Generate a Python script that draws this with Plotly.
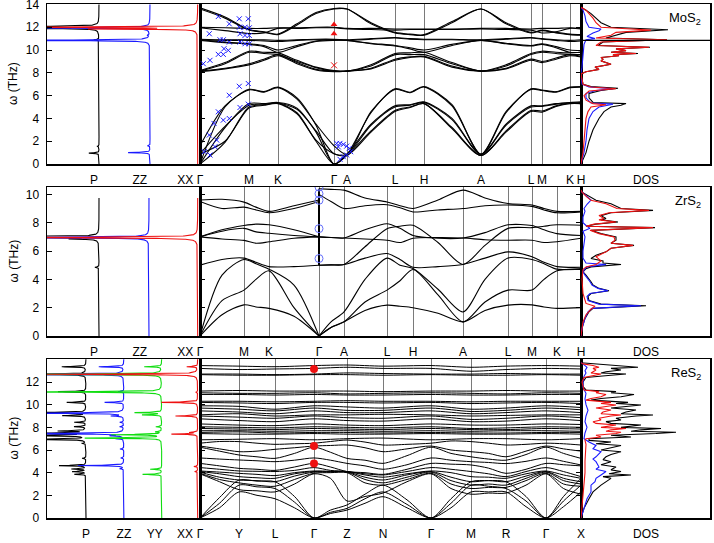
import numpy as np
import plotly.graph_objects as go

FONT = "Liberation Sans, Arial, Helvetica, sans-serif"

# ======================= DATA =======================
# ---------- MoS2 ----------
mos2_kx = [0, 25, 49, 64, 78, 97, 116, 134, 147, 171, 195, 210, 224, 252, 281, 306, 331, 342, 356, 370, 381]
mos2_hs_x = [0, 49, 78, 134, 147, 195, 224, 281, 331, 342, 370, 381]
mos2_hs_labels = ['Γ', 'M', 'K', 'Γ', 'A', 'L', 'H', 'A', 'L', 'M', 'K', 'H']
mos2_bands = [
    [0, 5.0, 6.55, 6.35, 6.75, 5.8, 3.4, 0, 0.85, 4.5, 6.6, 6.3, 6.8, 5.2, 0.85, 4.5, 6.6, 6.5, 6.35, 6.75, 6.8],
    [1.6, 5.1, 6.5, 6.3, 6.7, 5.7, 3.5, 1.6, 0.85, 4.6, 6.55, 6.25, 6.75, 5.1, 0.85, 4.6, 6.55, 6.45, 6.3, 6.7, 6.75],
    [0, 3.2, 5.3, 5.3, 5.4, 4.9, 2.8, 0, 0.85, 3.5, 5.1, 5.2, 5.45, 4.0, 0.85, 3.5, 5.1, 5.1, 5.3, 5.4, 5.45],
    [0.9, 3.3, 5.15, 5.25, 5.35, 4.8, 2.9, 0.9, 0.85, 3.4, 5.0, 5.15, 5.4, 3.9, 0.85, 3.4, 5.0, 5.05, 5.25, 5.35, 5.4],
    [0, 1.9, 5.0, 5.2, 5.35, 4.5, 2.0, 0, 0.75, 2.9, 4.7, 5.0, 5.3, 3.2, 0.75, 2.9, 4.7, 4.65, 5.1, 5.35, 5.3],
    [0.9, 2.0, 4.9, 5.15, 5.3, 4.4, 2.1, 0.9, 0.75, 2.8, 4.6, 4.95, 5.3, 3.1, 0.75, 2.8, 4.6, 4.55, 5.05, 5.3, 5.3],
    [13.7, 12.9, 11.8, 11.6, 11.4, 12.3, 13.3, 13.65, 13.6, 12.4, 11.55, 11.4, 11.35, 12.5, 13.6, 12.4, 11.55, 11.75, 11.55, 11.4, 11.35],
    [13.6, 12.8, 11.75, 11.55, 11.35, 12.2, 13.2, 13.6, 13.6, 12.3, 11.5, 11.35, 11.3, 12.4, 13.6, 12.3, 11.5, 11.7, 11.5, 11.35, 11.3],
    [12.0, 11.95, 11.9, 11.9, 11.95, 11.95, 12.0, 12.0, 11.9, 11.9, 11.85, 11.85, 11.85, 11.85, 11.9, 11.9, 11.85, 11.9, 11.9, 11.95, 11.9],
    [11.95, 11.7, 11.45, 11.5, 11.9, 11.9, 11.95, 11.95, 11.85, 11.8, 11.75, 11.8, 11.8, 11.8, 11.85, 11.8, 11.75, 11.5, 11.6, 11.9, 11.85],
    [10.95, 10.9, 10.9, 10.9, 10.85, 10.9, 10.95, 10.95, 10.9, 11.0, 11.1, 11.0, 10.95, 10.95, 10.9, 11.0, 11.1, 11.0, 10.9, 10.85, 10.9],
    [10.9, 10.85, 10.85, 10.8, 10.75, 10.85, 10.9, 10.9, 10.85, 10.95, 11.05, 10.95, 10.9, 10.9, 10.85, 10.95, 11.05, 10.95, 10.85, 10.75, 10.8],
    [10.9, 10.7, 10.55, 10.4, 10.0, 10.4, 10.8, 10.9, 10.85, 10.6, 10.4, 10.2, 10.0, 10.5, 10.85, 10.6, 10.4, 10.55, 10.3, 10.0, 9.95],
    [10.85, 10.65, 10.5, 10.3, 9.8, 10.3, 10.75, 10.85, 10.85, 10.55, 10.35, 10.1, 9.8, 10.4, 10.85, 10.55, 10.35, 10.5, 10.2, 9.8, 9.8],
    [8.2, 8.9, 9.9, 9.8, 9.75, 9.1, 8.5, 8.2, 8.15, 8.7, 9.7, 9.75, 9.8, 8.9, 8.15, 8.7, 9.7, 9.9, 9.8, 9.75, 9.8],
    [8.15, 8.8, 9.8, 9.7, 9.6, 9.0, 8.45, 8.15, 8.15, 8.6, 9.6, 9.6, 9.6, 8.8, 8.15, 8.6, 9.6, 9.8, 9.7, 9.6, 9.6],
    [8.15, 8.4, 8.8, 9.2, 9.6, 8.9, 8.3, 8.15, 8.15, 8.4, 9.2, 9.4, 9.45, 8.6, 8.15, 8.4, 9.2, 9.0, 9.3, 9.6, 9.45],
    [8.1, 8.35, 8.7, 9.1, 9.5, 8.8, 8.25, 8.1, 8.15, 8.35, 9.1, 9.35, 9.4, 8.5, 8.15, 8.35, 9.1, 8.9, 9.2, 9.5, 9.4],
]
mos2_exp_k = [3.3, 10, 9.3, 18.3, 39.3, 48.3, 29.3, 39.3, 45, 49.3, 40, 45, 49.3, 20, 23.3, 29.3, 40, 45, 49.3,
              24, 28.3, 18.3, 23.3, 39.3, 48.3, 29.3, 18.3, 14, 9.3, 4.3, 40, 48.3, 29.3, 23.3, 16.7, 15, 10,
              136.7, 140, 143.3, 146.7, 149.3, 150.7, 146.7, 143.3, 140, 138.3]
mos2_exp_f = [8.8, 9.1, 11.43, 12.94, 12.74, 12.74, 12.3, 12.0, 12.0, 11.95, 11.43, 11.28, 11.28, 10.9, 10.9, 10.7, 10.7, 10.55, 10.55,
              10.12, 9.97, 9.62, 9.62, 6.82, 7.06, 6.03, 4.58, 3.56, 2.54, 1.08, 4.96, 5.25, 3.99, 3.85, 2.1, 1.52, 0.79,
              1.81, 1.81, 1.72, 1.57, 1.37, 1.08, 0.79, 0.64, 0.41, 1.5]
mos2_raman_k = [134, 134]
mos2_raman_f = [12.24, 11.43]
mos2_ir_k = [134]
mos2_ir_f = [8.66]

# left panel (P, ZZ, XX) spike positions (THz) and heights
mos2_left_offsets = [1.02, 2.02, 2.955]
mos2_left_top = 14.0
mos2_left_peaks = [
    [(12.05, 2.5), (11.9, 1.5), (10.9, 0.1), (1.55, 0.04), (0.95, 0.2)],
    [(11.95, 3.0), (11.3, 0.04), (10.85, 3.0), (1.6, 0.05), (1.0, 0.43)],
    [(12.0, 4.0), (11.85, 2.0)],
]
mos2_left_ticks = [0.92, 1.82, 2.71]
mos2_left_labels = ['P', 'ZZ', 'XX']

# DOS (frequency, value)
mos2_dos_total = [(0, 0), (1, 0.05), (2, 0.08), (3, 0.12), (4, 0.18), (4.6, 0.23), (5.0, 0.3), (5.15, 0.4), (5.3, 0.45), (5.4, 0.12),
                  (5.8, 0.08), (6.2, 0.08), (6.45, 0.2), (6.65, 0.37), (6.8, 0.1), (7.0, 0.02), (7.9, 0.0), (8.1, 0.05), (8.3, 0.18),
                  (8.5, 0.14), (8.75, 0.3), (8.9, 0.25), (9.05, 0.2), (9.2, 0.22), (9.35, 0.2), (9.5, 0.38), (9.6, 0.32), (9.7, 0.57),
                  (9.8, 0.3), (9.95, 0.45), (10.1, 0.35), (10.25, 0.69), (10.4, 0.17), (10.7, 0.22), (10.9, 0.86), (11.05, 0.25),
                  (11.3, 0.36), (11.55, 0.45), (11.78, 0.87), (11.9, 0.6), (12.0, 0.3), (12.4, 0.2), (12.8, 0.15), (13.2, 0.1),
                  (13.5, 0.05), (13.75, 0)]
mos2_dos_red = [(0, 0), (1, 0.02), (2, 0.03), (3, 0.04), (4, 0.05), (4.6, 0.07), (5.0, 0.1), (5.2, 0.25), (5.3, 0.12), (5.6, 0.05),
                (6.0, 0.03), (6.4, 0.08), (6.6, 0.35), (6.75, 0.1), (7.0, 0.02), (7.9, 0.0), (8.1, 0.05), (8.3, 0.18), (8.5, 0.14),
                (8.75, 0.3), (8.9, 0.25), (9.05, 0.2), (9.2, 0.22), (9.35, 0.2), (9.5, 0.38), (9.6, 0.32), (9.7, 0.55), (9.8, 0.3),
                (9.95, 0.45), (10.1, 0.35), (10.25, 0.68), (10.4, 0.15), (10.7, 0.2), (10.9, 0.86), (11.05, 0.15), (11.3, 0.3),
                (11.55, 0.35), (11.75, 0.7), (11.85, 0.5), (12.0, 0.2), (12.4, 0.15), (12.8, 0.12), (13.2, 0.08), (13.5, 0.05),
                (13.75, 0.0)]
mos2_dos_blue = [(0, 0), (1, 0.03), (2, 0.05), (3, 0.06), (4, 0.08), (4.6, 0.12), (5.0, 0.18), (5.15, 0.25), (5.25, 0.32), (5.35, 0.1),
                 (5.8, 0.05), (6.2, 0.05), (6.45, 0.15), (6.6, 0.32), (6.75, 0.08), (7.0, 0.01), (8.0, 0.0), (8.5, 0.01), (9.5, 0.02),
                 (10.5, 0.03), (10.9, 0.05), (11.0, 0.14), (11.2, 0.06), (11.5, 0.12), (11.7, 0.18), (11.85, 0.2), (12.0, 0.08),
                 (12.5, 0.05), (13.0, 0.04), (13.5, 0.02), (13.75, 0)]
mos2_dos_line_freq = 10.85

# ---------- ZrS2 ----------
zrs2_hs_x = [0, 44, 69, 119, 144, 187, 213, 263, 308, 332, 357, 381]
zrs2_hs_labels = ['Γ', 'M', 'K', 'Γ', 'A', 'L', 'H', 'A', 'L', 'M', 'K', 'H']
zrs2_kx1 = [0, 22, 44, 56, 69, 94, 119]
zrs2_kx2 = [119, 131, 144, 165, 187, 200, 213, 238, 263, 285, 308, 332, 344, 357, 381]
zrs2_bands1 = [
    [9.6, 9.65, 9.45, 9.1, 8.8, 9.2, 9.6],
    [9.5, 9.0, 9.1, 8.9, 8.7, 9.0, 9.5],
    [7.0, 7.5, 7.8, 7.9, 7.85, 7.5, 7.0],
    [7.0, 7.4, 7.6, 7.35, 7.25, 7.1, 7.0],
    [7.0, 6.85, 6.75, 6.55, 6.65, 6.9, 7.0],
    [5.0, 5.4, 5.5, 5.2, 4.9, 4.9, 5.0],
    [0, 4.3, 5.4, 5.1, 4.72, 3.6, 0],
    [0, 2.5, 3.24, 4.0, 4.6, 2.0, 0],
    [0, 1.5, 2.2, 2.05, 1.95, 1.4, 0],
]
zrs2_bands2 = [
    [10.4, 10.35, 10.3, 9.75, 9.46, 9.2, 9.0, 9.6, 10.3, 9.75, 9.35, 9.25, 9.0, 8.8, 8.8],
    [10.0, 9.5, 9.0, 9.2, 9.27, 9.05, 8.76, 8.9, 9.0, 9.2, 9.25, 9.15, 8.9, 8.7, 8.76],
    [7.0, 6.95, 6.92, 7.5, 7.93, 7.6, 7.1, 6.9, 6.92, 7.3, 7.85, 7.8, 7.5, 7.23, 7.1],
    [5.0, 5.02, 5.05, 6.3, 7.58, 7.75, 7.82, 6.6, 5.05, 6.4, 7.6, 7.65, 7.75, 7.85, 7.82],
    [7.0, 6.95, 6.92, 6.85, 6.76, 6.6, 6.9, 6.95, 6.92, 6.8, 6.76, 6.76, 6.6, 6.65, 6.9],
    [5.0, 5.02, 5.05, 5.5, 5.82, 5.4, 4.85, 4.9, 5.05, 5.5, 5.94, 5.6, 5.2, 4.9, 4.85],
    [0, 1.0, 1.7, 4.0, 5.5, 5.0, 4.77, 3.3, 1.7, 4.0, 5.5, 5.4, 5.1, 4.72, 4.77],
    [0, 0.6, 1.0, 2.4, 3.24, 3.9, 4.7, 2.9, 1.0, 2.4, 3.24, 3.24, 4.0, 4.6, 4.7],
    [0, 0.6, 1.0, 1.8, 2.18, 2.1, 2.0, 1.6, 1.0, 1.8, 2.18, 2.2, 2.05, 1.95, 2.0],
]
zrs2_exp_k = [119, 119, 119, 119, 119]
zrs2_exp_f = [10.52, 10.05, 9.58, 7.58, 5.47]

zrs2_left_offsets = [1.02, 2.0, 2.955]
zrs2_left_top = 9.75
zrs2_left_peaks = [
    [(7.0, 2.5), (6.85, 0.5), (4.85, 0.08)],
    [(6.95, 3.0)],
    [(6.95, 4.0)],
]
zrs2_left_ticks = [0.92, 1.82, 2.71]
zrs2_left_labels = ['P', 'ZZ', 'XX']

zrs2_dos_total = [(0, 0), (0.54, 0.01), (1.24, 0.04), (1.71, 0.08), (1.95, 0.12), (2.14, 0.65), (2.25, 0.2), (2.5, 0.08), (2.8, 0.07),
                  (3.0, 0.1), (3.2, 0.28), (3.36, 0.18), (3.6, 0.12), (3.83, 0.1), (4.3, 0.05), (4.53, 0.02), (4.75, 0.05), (4.88, 0.1),
                  (5.05, 0.4), (5.15, 0.22), (5.3, 0.22), (5.47, 0.1), (5.7, 0.15), (5.94, 0.25), (6.2, 0.3), (6.4, 0.53), (6.55, 0.3),
                  (6.76, 0.35), (7.0, 0.35), (7.23, 0.2), (7.46, 0.1), (7.65, 0.74), (7.75, 0.05), (7.9, 0.15), (8.05, 0.37), (8.2, 0.2),
                  (8.3, 0.25), (8.5, 0.2), (8.7, 0.3), (8.87, 0.72), (9.0, 0.4), (9.34, 0.3), (9.58, 0.15), (9.8, 0.1), (10.16, 0.01),
                  (10.3, 0)]
zrs2_dos_red = [(0, 0), (1.0, 0.02), (1.5, 0.05), (1.9, 0.1), (2.1, 0.14), (2.3, 0.05), (3.0, 0.02), (4.0, 0.01), (4.7, 0.02), (4.88, 0.05),
                (5.05, 0.15), (5.3, 0.2), (5.6, 0.15), (5.94, 0.25), (6.2, 0.3), (6.4, 0.52), (6.55, 0.3), (6.76, 0.34), (7.0, 0.33),
                (7.23, 0.18), (7.46, 0.09), (7.65, 0.72), (7.75, 0.05), (7.9, 0.13), (8.05, 0.35), (8.2, 0.18), (8.3, 0.23), (8.5, 0.18),
                (8.7, 0.28), (8.87, 0.68), (9.0, 0.36), (9.34, 0.25), (9.58, 0.1), (9.8, 0.06), (10.16, 0.01), (10.3, 0)]
zrs2_dos_blue = [(0, 0), (0.54, 0.01), (1.24, 0.04), (1.71, 0.07), (1.95, 0.11), (2.14, 0.6), (2.25, 0.18), (2.5, 0.07), (2.8, 0.06),
                 (3.0, 0.09), (3.2, 0.27), (3.36, 0.17), (3.6, 0.11), (3.83, 0.09), (4.3, 0.04), (4.53, 0.02), (4.75, 0.04), (4.88, 0.06),
                 (5.05, 0.25), (5.15, 0.05), (5.5, 0.02), (6.0, 0.02), (6.5, 0.03), (7.0, 0.04), (7.4, 0.02), (7.6, 0.09), (7.8, 0.05),
                 (8.0, 0.02), (8.4, 0.02), (8.8, 0.04), (9.0, 0.03), (9.3, 0.06), (9.6, 0.1), (9.9, 0.05), (10.16, 0.01), (10.3, 0)]

# ---------- ReS2 ----------
res2_hs_x = [0, 39, 75, 114, 147, 183, 231, 271, 306, 346, 381]
res2_hs_labels = ['Γ', 'Y', 'L', 'Γ', 'Z', 'N', 'Γ', 'M', 'R', 'Γ', 'X']
res2_kx = [0, 19.5, 39, 57, 75, 94.5, 114, 130.5, 147, 165, 183, 207, 231, 251, 271, 288.5, 306, 326, 346, 363.5, 381]
res2_upper = [
    [13.45, 13.4, 13.35, 13.45, 13.5, 13.4, 13.45, 13.3, 13.4, 13.45, 13.4],
    [13.2, 13.1, 13.15, 13.2, 13.3, 13.2, 13.2, 12.95, 13.1, 13.2, 13.15],
    [12.7, 12.7, 12.65, 12.7, 12.8, 12.75, 12.7, 12.7, 12.75, 12.7, 12.7],
    [12.65, 12.6, 12.6, 12.65, 12.65, 12.6, 12.65, 12.6, 12.6, 12.65, 12.6],
    [11.2, 11.25, 11.2, 11.2, 11.2, 11.15, 11.2, 11.2, 11.25, 11.2, 11.2],
    [11.05, 11.0, 11.0, 11.05, 10.95, 11.0, 11.05, 11.0, 10.95, 11.05, 11.0],
    [10.9, 10.9, 10.85, 10.9, 10.85, 10.85, 10.9, 10.85, 10.85, 10.9, 10.9],
    [10.3, 10.3, 10.25, 10.3, 10.35, 10.3, 10.3, 10.25, 10.3, 10.3, 10.3],
    [10.2, 10.15, 10.1, 10.2, 10.2, 10.15, 10.2, 10.1, 10.15, 10.2, 10.1],
    [9.9, 9.85, 9.6, 9.9, 9.8, 9.7, 9.9, 9.6, 9.7, 9.9, 9.75],
    [9.7, 9.6, 9.45, 9.7, 9.5, 9.5, 9.7, 9.4, 9.5, 9.7, 9.55],
    [9.45, 9.35, 9.2, 9.45, 9.3, 9.3, 9.45, 9.2, 9.3, 9.45, 9.3],
    [9.1, 9.2, 9.0, 9.1, 9.1, 9.15, 9.1, 9.0, 9.05, 9.1, 9.1],
    [9.0, 8.9, 8.8, 9.0, 8.85, 8.8, 9.0, 8.7, 8.8, 9.0, 8.85],
    [8.75, 8.6, 8.5, 8.75, 8.6, 8.55, 8.75, 8.5, 8.55, 8.75, 8.6],
    [8.3, 8.2, 8.15, 8.3, 8.2, 8.15, 8.3, 8.2, 8.2, 8.3, 8.25],
    [8.05, 8.0, 7.95, 8.05, 8.0, 7.95, 8.05, 7.9, 7.95, 8.05, 8.0],
    [7.9, 7.85, 7.8, 7.9, 7.85, 7.8, 7.9, 7.8, 7.8, 7.9, 7.85],
    [7.7, 7.7, 7.65, 7.7, 7.7, 7.65, 7.7, 7.65, 7.7, 7.7, 7.65],
    [7.55, 7.6, 7.5, 7.55, 7.55, 7.5, 7.55, 7.5, 7.5, 7.55, 7.55],
    [7.45, 7.4, 7.4, 7.45, 7.4, 7.4, 7.45, 7.4, 7.4, 7.45, 7.4],
    [6.9, 6.95, 7.0, 6.9, 7.0, 7.05, 6.9, 7.0, 7.0, 6.9, 7.0],
]
res2_lower = [
    [6.6, 6.75, 6.74, 6.6, 6.5, 6.55, 6.6, 6.75, 6.88, 6.7, 6.44, 6.5, 6.6, 6.8, 6.74, 6.6, 6.44, 6.5, 6.6, 6.55, 6.44],
    [6.35, 6.1, 5.85, 5.9, 6.06, 6.2, 6.35, 6.4, 6.44, 6.2, 5.85, 6.1, 6.35, 6.0, 5.85, 5.7, 5.4, 5.9, 6.35, 6.1, 5.9],
    [6.25, 5.9, 5.56, 5.4, 5.26, 5.7, 6.25, 5.8, 5.26, 5.1, 4.82, 5.5, 6.25, 5.7, 5.4, 5.2, 5.1, 5.6, 6.25, 5.7, 5.26],
    [5.3, 5.2, 5.12, 5.05, 4.97, 5.1, 5.3, 5.1, 4.82, 4.6, 4.3, 4.7, 5.3, 5.1, 4.97, 4.9, 4.8, 5.0, 5.3, 5.0, 4.68],
    [4.82, 4.6, 4.38, 4.3, 4.2, 4.5, 4.82, 4.5, 4.1, 4.0, 3.85, 4.3, 4.82, 4.75, 4.68, 4.4, 3.94, 4.3, 4.82, 4.7, 4.6],
    [4.45, 4.3, 4.15, 4.12, 4.1, 4.2, 4.45, 4.2, 4.1, 3.9, 3.8, 4.1, 4.45, 4.3, 4.1, 3.9, 3.65, 4.1, 4.45, 4.1, 3.65],
    [4.15, 4.05, 3.94, 3.85, 3.74, 4.0, 4.15, 4.12, 4.1, 3.8, 3.6, 3.9, 4.15, 4.0, 3.65, 3.6, 3.5, 3.9, 4.15, 3.8, 3.5],
    [4.1, 3.9, 3.65, 3.55, 3.5, 3.9, 4.1, 4.1, 4.08, 3.6, 3.35, 3.8, 4.1, 3.6, 3.2, 3.3, 3.2, 3.7, 4.1, 3.5, 3.2],
    [4.05, 3.6, 3.35, 3.3, 3.2, 3.7, 4.05, 4.05, 4.05, 3.4, 3.1, 3.6, 4.05, 3.3, 2.9, 3.0, 2.9, 3.5, 4.05, 3.3, 3.0],
    [3.95, 3.4, 3.1, 2.9, 2.8, 3.4, 3.95, 4.0, 4.0, 3.1, 2.9, 3.4, 3.95, 3.0, 2.6, 2.7, 2.7, 3.3, 3.95, 3.0, 2.8],
    [3.9, 3.2, 2.5, 2.4, 2.3, 3.0, 3.9, 3.5, 1.5, 1.9, 2.2, 3.2, 3.9, 2.6, 2.1, 2.2, 2.2, 2.9, 3.9, 2.6, 2.1],
    [0, 1.8, 3.35, 3.25, 3.2, 1.9, 0, 0.7, 1.15, 2.1, 2.9, 1.6, 0, 1.7, 3.2, 3.3, 3.2, 1.9, 0, 1.9, 3.5],
    [0, 1.3, 2.9, 2.75, 2.6, 1.4, 0, 0.5, 0.85, 1.7, 2.3, 1.2, 0, 1.3, 2.9, 2.8, 2.6, 1.5, 0, 1.5, 2.9],
    [0, 0.9, 2.3, 2.0, 1.7, 0.9, 0, 0.4, 0.7, 1.3, 1.88, 0.9, 0, 0.9, 2.3, 2.3, 2.3, 1.0, 0, 1.0, 2.3],
]
res2_exp_k = [114, 114, 114]
res2_exp_f = [13.15, 6.35, 4.82]

res2_left_offsets = [1.02, 2.01, 3.0, 3.94]
res2_left_top = 14.0
res2_left_peaks = [
    [(13.35, 0.63), (12.68, 2.0), (11.15, 0.73), (10.2, 0.5), (9.3, 1.5), (9.03, 0.6), (8.45, 0.3), (8.06, 0.3), (7.68, 0.7),
     (7.47, 1.5), (7.26, 1.5), (6.94, 1.5), (6.59, 0.1), (5.27, 0.1), (4.62, 0.7), (4.32, 0.37), (4.09, 0.35), (3.86, 0.3)],
    [(13.35, 0.65), (12.68, 3.0), (11.15, 0.15), (10.2, 0.5), (9.25, 3.0), (9.0, 0.3), (8.45, 0.1), (8.06, 0.1), (7.45, 3.0),
     (7.26, 0.3), (7.0, 0.2), (6.09, 0.1), (5.3, 0.08), (4.63, 1.2), (4.35, 0.1)],
    [(13.35, 0.45), (12.68, 4.0), (11.12, 4.0), (9.3, 0.7), (9.1, 0.5), (8.05, 0.15), (7.6, 0.15), (7.35, 1.3), (7.05, 2.0),
     (4.3, 0.3), (3.85, 0.5)],
    [(13.35, 0.28), (12.68, 4.0), (11.1, 0.05), (10.2, 0.95), (9.0, 0.58), (7.55, 0.2), (7.4, 0.68), (4.55, 0.1), (4.1, 0.08)],
]
res2_left_ticks = [1.02, 2.01, 2.82, 3.61]
res2_left_labels = ['P', 'ZZ', 'YY', 'XX']

res2_dos_total = [(0, 0), (0.85, 0.03), (1.7, 0.08), (2.3, 0.12), (2.9, 0.2), (3.2, 0.25), (3.5, 0.3), (3.65, 0.22), (3.8, 0.5), (3.9, 0.28),
                  (4.1, 0.4), (4.25, 0.3), (4.5, 0.35), (4.7, 0.2), (4.97, 0.3), (5.15, 0.22), (5.4, 0.25), (5.6, 0.3), (5.85, 0.4),
                  (6.0, 0.2), (6.2, 0.3), (6.4, 0.4), (6.55, 0.15), (6.7, 0.3), (6.85, 0.08), (7.0, 0.08), (7.15, 0.5), (7.3, 0.3),
                  (7.45, 0.75), (7.56, 0.95), (7.65, 0.5), (7.78, 0.6), (7.9, 0.8), (8.0, 0.4), (8.2, 0.6), (8.35, 0.3), (8.5, 0.25),
                  (8.65, 0.4), (8.8, 0.35), (9.0, 0.55), (9.09, 0.72), (9.2, 0.4), (9.35, 0.45), (9.53, 0.55), (9.7, 0.3), (9.97, 0.6),
                  (10.1, 0.35), (10.2, 0.47), (10.4, 0.1), (10.55, 0.2), (10.7, 0.4), (10.9, 0.53), (11.05, 0.3), (11.15, 0.35),
                  (11.3, 0.05), (11.6, 0.02), (12.0, 0.02), (12.4, 0.05), (12.6, 0.3), (12.7, 0.45), (12.8, 0.2), (12.9, 0.25),
                  (13.06, 0.4), (13.2, 0.3), (13.3, 0.57), (13.45, 0.35), (13.6, 0.05), (13.7, 0)]
res2_dos_red = [(0, 0), (1, 0.01), (2, 0.02), (3, 0.03), (4, 0.04), (5, 0.04), (6, 0.05), (6.5, 0.05), (6.85, 0.04), (7.0, 0.05), (7.15, 0.2),
                (7.3, 0.15), (7.45, 0.35), (7.56, 0.4), (7.65, 0.25), (7.78, 0.3), (7.9, 0.45), (8.0, 0.2), (8.2, 0.35), (8.35, 0.15),
                (8.5, 0.12), (8.65, 0.2), (8.8, 0.18), (9.0, 0.3), (9.09, 0.4), (9.2, 0.2), (9.35, 0.22), (9.53, 0.3), (9.7, 0.15),
                (9.97, 0.35), (10.1, 0.2), (10.2, 0.3), (10.4, 0.05), (10.55, 0.1), (10.7, 0.2), (10.9, 0.25), (11.05, 0.15), (11.15, 0.18),
                (11.3, 0.03), (12.0, 0.01), (12.4, 0.03), (12.6, 0.15), (12.7, 0.2), (12.8, 0.1), (12.9, 0.12), (13.06, 0.15), (13.2, 0.12),
                (13.3, 0.18), (13.45, 0.12), (13.6, 0.02), (13.7, 0)]
res2_dos_blue = [(0, 0), (0.85, 0.03), (1.7, 0.06), (2.3, 0.1), (2.9, 0.1), (3.2, 0.14), (3.5, 0.15), (3.8, 0.2), (4.1, 0.25), (4.3, 0.15),
                 (4.5, 0.18), (4.97, 0.15), (5.2, 0.12), (5.4, 0.15), (5.85, 0.2), (6.1, 0.12), (6.4, 0.15), (6.7, 0.08), (7.0, 0.03),
                 (7.5, 0.04), (8.0, 0.06), (8.5, 0.04), (9.0, 0.05), (9.5, 0.07), (10.0, 0.05), (10.5, 0.04), (11.0, 0.05), (11.5, 0.02),
                 (12.0, 0.02), (12.5, 0.03), (12.8, 0.05), (13.0, 0.04), (13.3, 0.06), (13.6, 0.02), (13.7, 0)]

# ======================= FIGURE =======================
W, H = 714, 543
BLACK, BLUE, RED, GREEN = '#000000', '#1a1aff', '#ee1111', '#11dd11'


def px(x):
    return x / W


def py(y):
    return 1 - y / H


col_px = [(47, 200), (200, 581), (581, 710)]
row_px = [(4, 164), (187, 336), (359, 518)]
yranges = [[0, 14.04], [0, 10.52], [0, 14.03]]
yticks = [list(range(0, 15, 2)), list(range(0, 11, 2)), list(range(0, 13, 2))]

fig = go.Figure()
layout = {'annotations': []}


def ax_id(r, c):
    return r * 3 + c + 1


def xname(i):
    return 'x' if i == 1 else f'x{i}'


def yname(i):
    return 'y' if i == 1 else f'y{i}'


def make_axes(r, c, xrange, tickvals, ticktext, grid=False):
    i = ax_id(r, c)
    xk = 'xaxis' if i == 1 else f'xaxis{i}'
    yk = 'yaxis' if i == 1 else f'yaxis{i}'
    x0, x1 = col_px[c]
    y0, y1 = row_px[r]
    layout[xk] = dict(domain=[px(x0), px(x1)], range=xrange, anchor=yname(i), showline=True, mirror=True,
                      linecolor='black', linewidth=1.5, ticks='', tickvals=tickvals, ticktext=ticktext,
                      showgrid=grid, gridcolor='#7a7a7a', gridwidth=1, zeroline=False, automargin=False,
                      ticklabeloverflow='allow',
                      tickfont=dict(size=12, family=FONT, color='black'), ticklabelstandoff=4, fixedrange=True)
    ycfg = dict(domain=[py(y1), py(y0)], range=yranges[r], anchor=xname(i), showline=True, mirror=True,
                linecolor='black', linewidth=1.5, zeroline=False, showgrid=False, fixedrange=True,
                automargin=False, ticklabeloverflow='allow',
                tickfont=dict(size=12, family=FONT, color='black'))
    if c == 0:
        ycfg.update(tickvals=yticks[r], ticks='inside', ticklen=5, tickwidth=1, tickcolor='black',
                    showticklabels=True, ticklabelstandoff=4)
    elif c == 1:
        ycfg.update(tickvals=yticks[r], ticks='inside', ticklen=5, tickwidth=1, tickcolor='black',
                    showticklabels=False, mirror='ticks')
    else:
        ycfg.update(tickvals=[], ticks='', showticklabels=False)
    layout[yk] = ycfg
    return xname(i), yname(i)


def spike_curve(offset, top, peaks, width=0.03):
    f0 = np.array([p[0] for p in peaks])
    amp = np.array([p[1] for p in peaks])
    y = np.unique(np.concatenate([np.linspace(0, top, 2500), f0, f0 - width, f0 + width]))
    y = y[(y >= 0) & (y <= top)]
    x = offset - (amp[None, :] * width ** 2 / ((y[:, None] - f0[None, :]) ** 2 + width ** 2)).sum(axis=1)
    return x, y


def add_left(r, offsets, top, peaks, colors, ticks, labels, xmax):
    xa, ya = make_axes(r, 0, [0, xmax], ticks, labels)
    for off, pk, colr in zip(offsets, peaks, colors):
        x, y = spike_curve(off, top, pk)
        fig.add_trace(go.Scatter(x=x, y=y, mode='lines', line=dict(color=colr, width=1.1),
                                 xaxis=xa, yaxis=ya, hoverinfo='skip'))


def add_dos(r, total, red, blue, label):
    xa, ya = make_axes(r, 2, [0, 1.29], [0.65], ['DOS'])
    for data, colr in ((total, BLACK), (blue, BLUE), (red, RED)):
        fig.add_trace(go.Scatter(x=[d[1] for d in data], y=[d[0] for d in data], mode='lines',
                                 line=dict(color=colr, width=1.1), xaxis=xa, yaxis=ya, hoverinfo='skip'))
    layout['annotations'].append(dict(
        x=px(703), y=py(row_px[r][0] + 14), xref='paper', yref='paper', text=label, showarrow=False,
        xanchor='right', yanchor='middle', font=dict(size=13, family=FONT, color='black')))
    return xa, ya


def band_trace(kx, vals, xa, ya, width=1.1):
    return go.Scatter(x=kx, y=vals, mode='lines', line=dict(color='black', width=width, shape='spline', smoothing=0.8),
                      xaxis=xa, yaxis=ya, hoverinfo='skip')


# ---------------- Row 1: MoS2 ----------------
add_left(0, mos2_left_offsets, mos2_left_top, mos2_left_peaks, [BLACK, BLUE, RED], mos2_left_ticks, mos2_left_labels, 3)
xa, ya = make_axes(0, 1, [0, 381], mos2_hs_x, mos2_hs_labels, grid=True)
for b in mos2_bands:
    fig.add_trace(band_trace(mos2_kx, b, xa, ya))
fig.add_trace(go.Scatter(x=mos2_exp_k, y=mos2_exp_f, mode='markers',
                         marker=dict(symbol='x-thin', size=5, line=dict(color=BLUE, width=1)), xaxis=xa, yaxis=ya, hoverinfo='skip'))
fig.add_trace(go.Scatter(x=mos2_raman_k, y=mos2_raman_f, mode='markers',
                         marker=dict(symbol='triangle-up', size=6, color=RED), xaxis=xa, yaxis=ya, hoverinfo='skip'))
fig.add_trace(go.Scatter(x=mos2_ir_k, y=mos2_ir_f, mode='markers',
                         marker=dict(symbol='x-thin', size=6, line=dict(color=RED, width=1)), xaxis=xa, yaxis=ya, hoverinfo='skip'))
dxa, dya = add_dos(0, mos2_dos_total, mos2_dos_red, mos2_dos_blue, 'MoS<sub>2</sub>')
fig.add_trace(go.Scatter(x=[0, 1.29], y=[mos2_dos_line_freq] * 2, mode='lines', line=dict(color='black', width=1.2),
                         xaxis=dxa, yaxis=dya, hoverinfo='skip'))

# ---------------- Row 2: ZrS2 ----------------
add_left(1, zrs2_left_offsets, zrs2_left_top, zrs2_left_peaks, [BLACK, BLUE, RED], zrs2_left_ticks, zrs2_left_labels, 3)
xa, ya = make_axes(1, 1, [0, 381], zrs2_hs_x, zrs2_hs_labels, grid=True)
for b1, b2 in zip(zrs2_bands1, zrs2_bands2):
    fig.add_trace(band_trace(zrs2_kx1, b1, xa, ya))
    fig.add_trace(band_trace(zrs2_kx2, b2, xa, ya))
jump_lo = min(b[0] for b in zrs2_bands2 if b[0] > 0)
jump_hi = max(b[0] for b in zrs2_bands2)
fig.add_trace(go.Scatter(x=[zrs2_kx2[0]] * 2, y=[jump_lo, jump_hi], mode='lines', line=dict(color='black', width=2),
                         xaxis=xa, yaxis=ya, hoverinfo='skip'))
fig.add_trace(go.Scatter(x=zrs2_exp_k, y=zrs2_exp_f, mode='markers',
                         marker=dict(symbol='circle-open', size=8, line=dict(color=RED, width=1)), xaxis=xa, yaxis=ya, hoverinfo='skip'))
add_dos(1, zrs2_dos_total, zrs2_dos_red, zrs2_dos_blue, 'ZrS<sub>2</sub>')

# ---------------- Row 3: ReS2 ----------------
add_left(2, res2_left_offsets, res2_left_top, res2_left_peaks, [BLACK, BLUE, GREEN, RED], res2_left_ticks, res2_left_labels, 4)
xa, ya = make_axes(2, 1, [0, 381], res2_hs_x, res2_hs_labels, grid=True)
for b in res2_upper:
    fig.add_trace(band_trace(res2_hs_x, b, xa, ya, width=1.0))
for b in res2_lower:
    fig.add_trace(band_trace(res2_kx, b, xa, ya, width=1.0))
fig.add_trace(go.Scatter(x=res2_exp_k, y=res2_exp_f, mode='markers',
                         marker=dict(symbol='circle', size=8, color=RED), xaxis=xa, yaxis=ya, hoverinfo='skip'))
add_dos(2, res2_dos_total, res2_dos_red, res2_dos_blue, 'ReS<sub>2</sub>')

# y-axis titles
for r in range(3):
    yc = (row_px[r][0] + row_px[r][1]) / 2
    layout['annotations'].append(dict(x=px(13), y=py(yc), xref='paper', yref='paper', text='ω (THz)', textangle=-90,
                                      showarrow=False, xanchor='center', yanchor='middle',
                                      font=dict(size=12, family=FONT, color='black')))

fig.update_layout(**layout)
fig.update_layout(width=W, height=H, margin=dict(l=0, r=0, t=0, b=0, pad=0), paper_bgcolor='white', plot_bgcolor='white',
                  showlegend=False, font=dict(family=FONT, size=12, color='black'))
fig.write_html("out.html", config={'displayModeBar': False, 'staticPlot': True},
               post_script="document.body.style.margin='0';document.body.style.padding='0';"
                           "document.documentElement.style.margin='0';")
